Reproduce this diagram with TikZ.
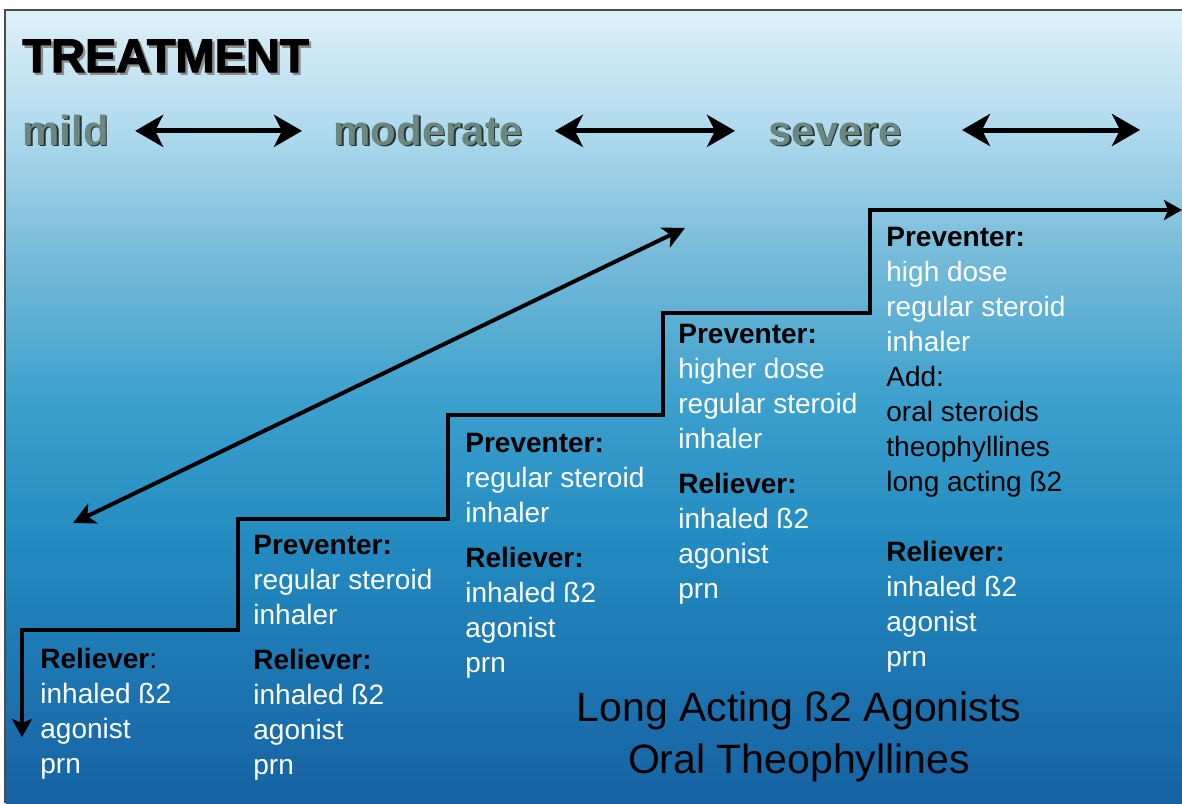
\documentclass[tikz,border=0pt]{standalone}
\usepackage{fontspec}
\setmainfont{Liberation Sans}
\newfontfamily\heavyfont{Liberation Sans}[BoldFeatures={FakeBold=2.5}]
\usetikzlibrary{arrows.meta,positioning}

\definecolor{bgA}{RGB}{22,98,162}
\definecolor{bgB}{RGB}{28,114,174}
\definecolor{bgC}{RGB}{34,138,192}
\definecolor{bgD}{RGB}{60,160,205}
\definecolor{bgE}{RGB}{120,188,217}
\definecolor{bgF}{RGB}{175,218,237}
\definecolor{bgG}{RGB}{222,240,249}
\definecolor{lvlfill}{RGB}{108,134,128}
\definecolor{lvledge}{RGB}{40,50,50}

\pgfdeclareverticalshading{skyfade}{100bp}{color(0bp)=(bgA); color(25bp)=(bgA);
  color(31.5bp)=(bgB); color(41bp)=(bgC); color(50.4bp)=(bgD);
  color(59.9bp)=(bgE); color(67.5bp)=(bgF); color(75bp)=(bgG); color(100bp)=(bgG)}

\newcommand{\shadowed}[3]{\rlap{\textcolor{#2}{\hspace{#3}\raisebox{-#3}{#1}}}#1}
\newcommand{\hdr}[1]{{\color{black}\bfseries #1}}
\newcommand{\blk}[1]{{\color{black}#1}}

\begin{document}
\begin{tikzpicture}[
  x=0.5pt, y=-0.5pt,
  font=\fontsize{14pt}{17.5pt}\selectfont,
  stepnote/.style={anchor=north west, inner sep=0pt, align=left, text=white},
  sevlabel/.style={anchor=base west, inner sep=0pt,
    font=\fontsize{21pt}{25pt}\selectfont\bfseries, text=lvlfill},
  rangearrow/.style={line width=2.5pt,
    {Stealth[length=14pt,width=16pt,inset=4pt]}-{Stealth[length=14pt,width=16pt,inset=4pt]}},
  diagarrow/.style={line width=2pt,
    {Stealth[length=11pt,width=11pt,inset=3pt]}-{Stealth[length=11pt,width=11pt,inset=3pt]}},
  stairline/.style={line width=2pt,
    {Stealth[length=9pt,width=10pt,inset=2pt]}-{Stealth[length=9pt,width=10pt,inset=2pt]}}
]
\useasboundingbox (0,0) rectangle (1182,803);
\fill[white] (0,0) rectangle (1182,803);
\shade[shading=skyfade] (6,11) rectangle (1182,803);
\draw[line width=1pt, black!70] (5,803) -- (5,10) -- (1182,10);

% heading and severity scale
\node[anchor=base west, inner sep=0pt, font=\fontsize{23.5pt}{28pt}\selectfont\heavyfont\bfseries]
  (title) at (22,72) {\shadowed{TREATMENT}{black!45}{1.2pt}};
\node[sevlabel] (mild) at (22,145) {\shadowed{mild}{lvledge}{0.9pt}};
\node[sevlabel] (moderate) at (333,145) {\shadowed{moderate}{lvledge}{0.9pt}};
\node[sevlabel] (severe) at (768,145) {\shadowed{severe}{lvledge}{0.9pt}};
\coordinate (sevL) at (962,130);
\coordinate (sevR) at (1140,130);

\draw[rangearrow, shorten <=13pt, shorten >=15.5pt] (mild.east) -- (moderate.west);
\draw[rangearrow, shorten <=16pt, shorten >=16.5pt] (moderate.east) -- (moderate.east -| severe.west);
\draw[rangearrow] (sevL) -- (sevR);

% diagonal
\coordinate (diagLo) at (73,523);
\coordinate (diagHi) at (685,228);
\draw[diagarrow] (diagLo) -- (diagHi);

% staircase
\coordinate (stairEnd) at (22,737);
\coordinate (stairTop) at (1182,210);
\draw[stairline] (stairEnd) |- (238,630) |- (448,519) |- (663,415) |- (870,313) |- (stairTop);

% steps
\node[stepnote] (step1) at (40,648) {%
  \hdr{Reliever}\blk{:}\\ inhaled ß2\\ agonist\\ prn};
\node[stepnote] (step2) at (253,535) {%
  \hdr{Preventer:}\\ regular steroid\\ inhaler\\[5pt]
  \hdr{Reliever:}\\ inhaled ß2\\ agonist\\ prn};
\node[stepnote] (step3) at (465,433) {%
  \hdr{Preventer:}\\ regular steroid\\ inhaler\\[5pt]
  \hdr{Reliever:}\\ inhaled ß2\\ agonist\\ prn};
\node[stepnote] (step4) at (678,324) {%
  \hdr{Preventer:}\\ higher dose\\ regular steroid\\ inhaler\\[5pt]
  \hdr{Reliever:}\\ inhaled ß2\\ agonist\\ prn};
\node[stepnote] (step5) at (886,227) {%
  \hdr{Preventer:}\\ high dose\\ regular steroid\\ inhaler\\
  \blk{Add:}\\ \blk{oral steroids}\\ \blk{theophyllines}\\ \blk{long acting ß2}\\[17.5pt]
  \hdr{Reliever:}\\ inhaled ß2\\ agonist\\ prn};

\node[anchor=north, inner sep=0pt, align=center,
  font=\fontsize{20.5pt}{26pt}\selectfont] (addons) at (799,691)
  {Long Acting ß2 Agonists\\ Oral Theophyllines};
\end{tikzpicture}
\end{document}
